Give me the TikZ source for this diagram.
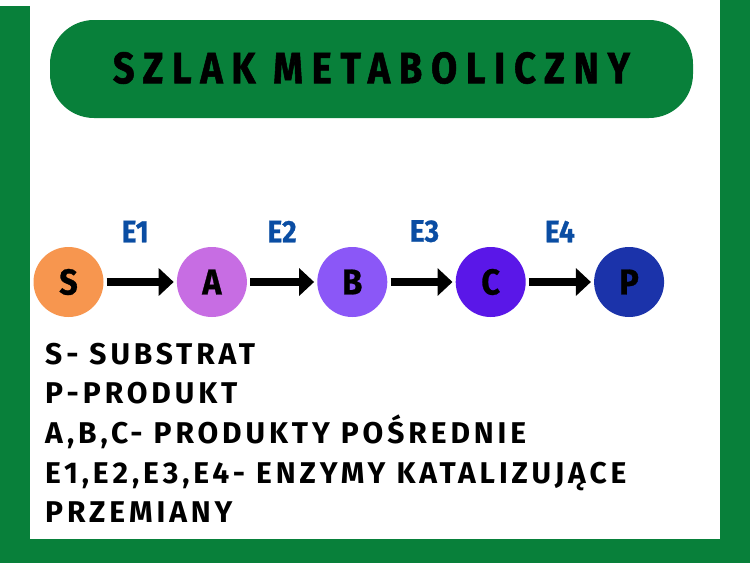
\documentclass[tikz,border=0pt]{standalone}
\usepackage{fontspec}
\usepackage{tikz}
\usetikzlibrary{positioning,arrows.meta}
\setmainfont{Fira Sans}
\newfontfamily\titlefont[FakeStretch=0.86,LetterSpace=20,FakeBold=1.2]{Fira Sans}
\newfontfamily\labelfont[FakeStretch=0.9,FakeBold=0.8]{Fira Sans}
\newfontfamily\legendfont[LetterSpace=13]{Fira Sans}

\definecolor{framegreen}{RGB}{8,128,58}
\definecolor{substrate}{RGB}{247,150,79}
\definecolor{stepA}{RGB}{199,109,227}
\definecolor{stepB}{RGB}{139,87,247}
\definecolor{stepC}{RGB}{90,23,232}
\definecolor{product}{RGB}{27,51,170}
\definecolor{enzymeblue}{RGB}{10,77,163}

\tikzset{
  molecule/.style={circle,minimum size=70pt,inner sep=0pt,
    font=\labelfont\bfseries\fontsize{36}{36}\selectfont},
  reaction/.style={-{Triangle[length=15pt,width=27pt]},line width=7.5pt,
    shorten <=3pt,shorten >=3pt},
  enzyme/.style={inner sep=0pt,text=enzymeblue,
    font=\labelfont\bfseries\fontsize{31}{31}\selectfont},
  legend/.style={inner sep=0pt,anchor=base west,
    font=\legendfont\bfseries\fontsize{30}{30}\selectfont}
}

\begin{document}
\begin{tikzpicture}[x=1pt,y=-1pt]

  % Frame
  \useasboundingbox (0,0) rectangle (750,563);
  \fill [framegreen] (0,0) rectangle (750,563);
  \fill [white] (30,0) rectangle (720,539);
  \fill [white] (0,0) rectangle (30,6);

  % Title
  \node [fill=framegreen,rounded corners=44pt,minimum width=643pt,
    minimum height=98pt] (title) at (371.5,69) {};
  \node [font=\titlefont\bfseries\fontsize{44}{44}\selectfont] at ([yshift=1pt]title) {SZLAK METABOLICZNY};

  % Pathway
  \node [molecule,fill=substrate] (s) at (68.5,282) {S};
  \node [molecule,fill=stepA,right=73pt of s] (a) {A};
  \node [molecule,fill=stepB,right=70pt of a] (b) {B};
  \node [molecule,fill=stepC,right=68pt of b] (c) {C};
  \node [molecule,fill=product,right=68pt of c] (p) {P};

  % Enzymes
  \draw [reaction] (s) -- node [enzyme,above=36pt,midway,xshift=-5pt] {E1} (a);
  \draw [reaction] (a) -- node [enzyme,above=36pt,midway] {E2} (b);
  \draw [reaction] (b) -- node [enzyme,above=36pt,midway,xshift=3pt] {E3} (c);
  \draw [reaction] (c) -- node [enzyme,above=36pt,midway] {E4} (p);

  % Legend
  \node [legend] (l1) at (45,364) {S- SUBSTRAT};
  \node [legend,below=39.7pt of l1.base west,anchor=base west] (l2) {P-PRODUKT};
  \node [legend,below=39.7pt of l2.base west,anchor=base west] (l3) {A,B,C- PRODUKTY POŚREDNIE};
  \node [legend,below=39.7pt of l3.base west,anchor=base west] (l4) {E1,E2,E3,E4- ENZYMY KATALIZUJĄCE};
  \node [legend,below=39.7pt of l4.base west,anchor=base west] (l5) {PRZEMIANY};

\end{tikzpicture}
\end{document}
